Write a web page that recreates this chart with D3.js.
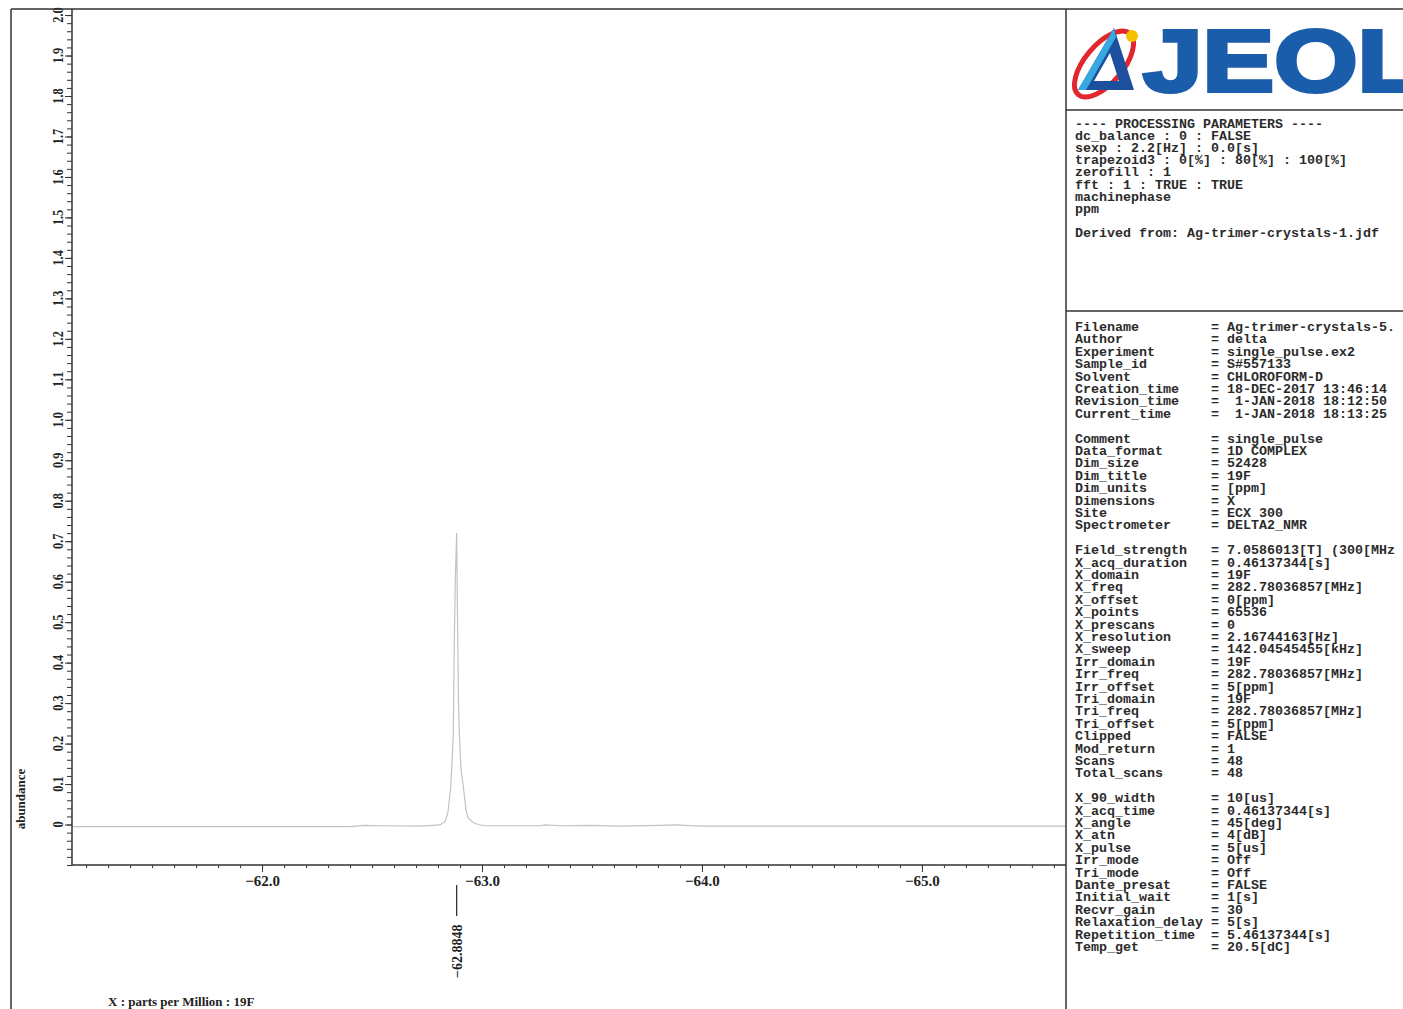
<!DOCTYPE html>
<html>
<head>
<meta charset="utf-8">
<script src="https://cdn.jsdelivr.net/npm/d3@7"></script>
<style>
  body { margin: 0; background: #fff; }
  .mono { font-family: 'Liberation Mono', 'Courier New', monospace; font-size: 13.33px; font-weight: bold; fill: #2b2b2b; white-space: pre; }
  .serif { font-family: 'Liberation Serif', 'Times New Roman', serif; font-weight: bold; fill: #222; }
</style>
</head>
<body>
<div class="spectrum"></div>
<script>
// spectrum trace (ppm, abundance)
const shiftPpm = [-61.136, -61.718, -62.400, -62.468, -62.536, -62.718, -62.809, -62.832, -62.845, -62.858,
    -62.864, -62.8695, -62.874, -62.8786, -62.8848, -62.8877, -62.890, -62.893, -62.8968, -62.9045,
    -62.915, -62.927, -62.936, -62.959, -62.982, -63.014, -63.264, -63.286, -63.355, -63.491,
    -63.627, -63.809, -63.877, -63.991, -64.445, -64.900, -65.655];
const intensity = [-0.005, -0.005, -0.005, -0.002, -0.003, -0.004, -0.001, 0.007, 0.030, 0.094,
    0.160, 0.227, 0.449, 0.605, 0.720, 0.556, 0.449, 0.309, 0.227, 0.136,
    0.094, 0.037, 0.017, 0.005, 0.0, -0.003, -0.003, -0.001, -0.003, -0.002,
    -0.004, -0.002, -0.001, -0.004, -0.004, -0.004, -0.004];

const xTicks = [-62.0, -63.0, -64.0, -65.0];
const yTicks = [0, 0.1, 0.2, 0.3, 0.4, 0.5, 0.6, 0.7, 0.8, 0.9, 1.0, 1.1, 1.2, 1.3, 1.4, 1.5, 1.6, 1.7, 1.8, 1.9, 2.0];
const peakPpm = -62.8848;

const processingLines = [
    '---- PROCESSING PARAMETERS ----',
    'dc_balance : 0 : FALSE',
    'sexp : 2.2[Hz] : 0.0[s]',
    'trapezoid3 : 0[%] : 80[%] : 100[%]',
    'zerofill : 1',
    'fft : 1 : TRUE : TRUE',
    'machinephase',
    'ppm',
    '',
    'Derived from: Ag-trimer-crystals-1.jdf'
];

const paramLabels = [
    'Filename', 'Author', 'Experiment', 'Sample_id', 'Solvent', 'Creation_time', 'Revision_time', 'Current_time', '',
    'Comment', 'Data_format', 'Dim_size', 'Dim_title', 'Dim_units', 'Dimensions', 'Site', 'Spectrometer', '',
    'Field_strength', 'X_acq_duration', 'X_domain', 'X_freq', 'X_offset', 'X_points', 'X_prescans', 'X_resolution',
    'X_sweep', 'Irr_domain', 'Irr_freq', 'Irr_offset', 'Tri_domain', 'Tri_freq', 'Tri_offset', 'Clipped',
    'Mod_return', 'Scans', 'Total_scans', '',
    'X_90_width', 'X_acq_time', 'X_angle', 'X_atn', 'X_pulse', 'Irr_mode', 'Tri_mode', 'Dante_presat',
    'Initial_wait', 'Recvr_gain', 'Relaxation_delay', 'Repetition_time', 'Temp_get'
];
const paramValues = [
    'Ag-trimer-crystals-5.', 'delta', 'single_pulse.ex2', 'S#557133', 'CHLOROFORM-D', '18-DEC-2017 13:46:14',
    ' 1-JAN-2018 18:12:50', ' 1-JAN-2018 18:13:25', '',
    'single_pulse', '1D COMPLEX', '52428', '19F', '[ppm]', 'X', 'ECX 300', 'DELTA2_NMR', '',
    '7.0586013[T] (300[MHz', '0.46137344[s]', '19F', '282.78036857[MHz]', '0[ppm]', '65536', '0',
    '2.16744163[Hz]', '142.04545455[kHz]', '19F', '282.78036857[MHz]', '5[ppm]', '19F', '282.78036857[MHz]',
    '5[ppm]', 'FALSE', '1', '48', '48', '',
    '10[us]', '0.46137344[s]', '45[deg]', '4[dB]', '5[us]', 'Off', 'Off', 'FALSE', '1[s]', '30', '5[s]',
    '5.46137344[s]', '20.5[dC]'
];

const width = 1403;
const height = 1009;
const plot = { left: 72, right: 1066, top: 9, bottom: 865 };
const frameColor = '#333';

const svg = d3.select('.spectrum')
    .append('svg')
    .attr('width', width)
    .attr('height', height);

const x = d3.scaleLinear().domain([-61.136, -65.655]).range([plot.left, plot.right]);
const y = d3.scaleLinear().domain([-0.1, 2.015]).range([plot.bottom, plot.top]);

// minor ticks
const xMinor = d3.range(-61.2, -65.65, -0.1).map(v => +v.toFixed(1));
const yMinor = d3.range(-0.1, 2.01, 0.02).map(v => +v.toFixed(2));

svg.append('g')
    .attr('transform', `translate(0,${plot.bottom})`)
    .call(d3.axisBottom(x).tickValues(xMinor).tickSize(3).tickFormat(''))
    .call(g => g.select('.domain').remove())
    .call(g => g.selectAll('line').attr('stroke', frameColor));

const xAxis = svg.append('g')
    .attr('transform', `translate(0,${plot.bottom})`)
    .call(d3.axisBottom(x).tickValues(xTicks).tickSize(7).tickPadding(3)
        .tickFormat(d => d3.format('.1f')(d).replace('-', '\u2212')))
    .call(g => g.select('.domain').remove());
xAxis.selectAll('line').attr('stroke', frameColor);
xAxis.selectAll('text')
    .attr('class', 'serif')
    .style('font-size', '15px')
    .attr('dy', '0.72em');

svg.append('g')
    .attr('transform', `translate(${plot.left},0)`)
    .call(d3.axisLeft(y).tickValues(yMinor).tickSize(5).tickFormat(''))
    .call(g => g.select('.domain').remove())
    .call(g => g.selectAll('line').attr('stroke', frameColor));

const yAxis = svg.append('g')
    .attr('transform', `translate(${plot.left},0)`)
    .call(d3.axisLeft(y).tickValues(yTicks).tickSize(7).tickFormat(''))
    .call(g => g.select('.domain').remove());
yAxis.selectAll('line').attr('stroke', frameColor);

svg.append('g')
    .selectAll('text')
    .data(yTicks)
    .enter()
    .append('text')
    .attr('class', 'serif')
    .style('font-size', '15px')
    .attr('text-anchor', 'middle')
    .attr('transform', d => `translate(63,${y(d)}) rotate(-90) scale(0.82,1)`)
    .text(d => d === 0 ? '0' : d3.format('.1f')(d));

// spectrum trace
const line = d3.line()
    .x((d, i) => x(shiftPpm[i]))
    .y(d => y(d));

svg.append('path')
    .datum(intensity)
    .attr('fill', 'none')
    .attr('stroke', '#c2c2c2')
    .attr('stroke-width', 1.2)
    .attr('d', line);

// frame
const frame = svg.append('g').attr('stroke', frameColor).attr('stroke-width', 1.5);
frame.append('line').attr('x1', 11).attr('x2', 11).attr('y1', 9).attr('y2', height);
frame.append('line').attr('x1', 11).attr('x2', width).attr('y1', 9).attr('y2', 9);
frame.append('line').attr('x1', plot.left).attr('x2', plot.left).attr('y1', plot.top).attr('y2', plot.bottom);
frame.append('line').attr('x1', plot.left).attr('x2', plot.right).attr('y1', plot.bottom).attr('y2', plot.bottom);
frame.append('line').attr('x1', plot.right).attr('x2', plot.right).attr('y1', 9).attr('y2', height);
frame.append('line').attr('x1', plot.right).attr('x2', width).attr('y1', 110).attr('y2', 110);
frame.append('line').attr('x1', plot.right).attr('x2', width).attr('y1', 311).attr('y2', 311);

// peak marker
const px = x(peakPpm);
svg.append('line')
    .attr('x1', px).attr('x2', px)
    .attr('y1', 885).attr('y2', 916)
    .attr('stroke', frameColor)
    .attr('stroke-width', 1.3);
svg.append('text')
    .attr('class', 'serif')
    .style('font-size', '14px')
    .attr('transform', `translate(${px + 5},978) rotate(-90)`)
    .text(d3.format('.4f')(peakPpm).replace('-', '\u2212'));

// axis titles
svg.append('text')
    .attr('class', 'serif')
    .style('font-size', '13px')
    .attr('text-anchor', 'middle')
    .attr('transform', `translate(25,799) rotate(-90)`)
    .text('abundance');

svg.append('text')
    .attr('class', 'serif')
    .style('font-size', '13px')
    .attr('x', 108)
    .attr('y', 1006)
    .text('X : parts per Million : 19F');

// JEOL logo
const logo = svg.append('g');
logo.append('ellipse')
    .attr('cx', 1104).attr('cy', 64)
    .attr('rx', 40).attr('ry', 19)
    .attr('fill', 'none')
    .attr('stroke', '#e1262d')
    .attr('stroke-width', 5)
    .attr('transform', 'rotate(-50,1104,64)');
logo.append('path')
    .attr('d', 'M1114,28 L1078,90 L1134,90 Z M1110,53 L1094,81 L1119,81 Z')
    .attr('fill-rule', 'evenodd')
    .attr('fill', '#1d4f9f');
logo.append('path')
    .attr('d', 'M1114,28 L1078,90 L1086,90 L1116,37 Z')
    .attr('fill', '#36a9e1');
logo.append('circle')
    .attr('cx', 1132).attr('cy', 36).attr('r', 6)
    .attr('fill', '#f6c200');
logo.append('text')
    .attr('x', 1143)
    .attr('y', 91)
    .attr('textLength', 280)
    .attr('lengthAdjust', 'spacingAndGlyphs')
    .style('font-family', "'Liberation Sans', Arial, sans-serif")
    .style('font-weight', 'bold')
    .style('font-size', '88px')
    .attr('fill', '#1a5dab')
    .attr('stroke', '#1a5dab')
    .attr('stroke-width', 4)
    .attr('stroke-linejoin', 'miter')
    .text('JEOL');

// processing parameters
svg.append('g')
    .selectAll('text')
    .data(processingLines)
    .enter()
    .append('text')
    .attr('class', 'mono')
    .attr('x', 1075)
    .attr('y', (d, i) => 128 + i * 12.1)
    .text(d => d);

// acquisition parameters
const params = svg.append('g');
params.selectAll('text.label')
    .data(paramLabels)
    .enter()
    .append('text')
    .attr('class', 'mono label')
    .attr('x', 1075)
    .attr('y', (d, i) => 331 + i * 12.4)
    .text(d => d);
params.selectAll('text.value')
    .data(paramValues)
    .enter()
    .append('text')
    .attr('class', 'mono value')
    .attr('x', 1211)
    .attr('y', (d, i) => 331 + i * 12.4)
    .text(d => d === '' ? '' : '= ' + d);
</script>
</body>
</html>
